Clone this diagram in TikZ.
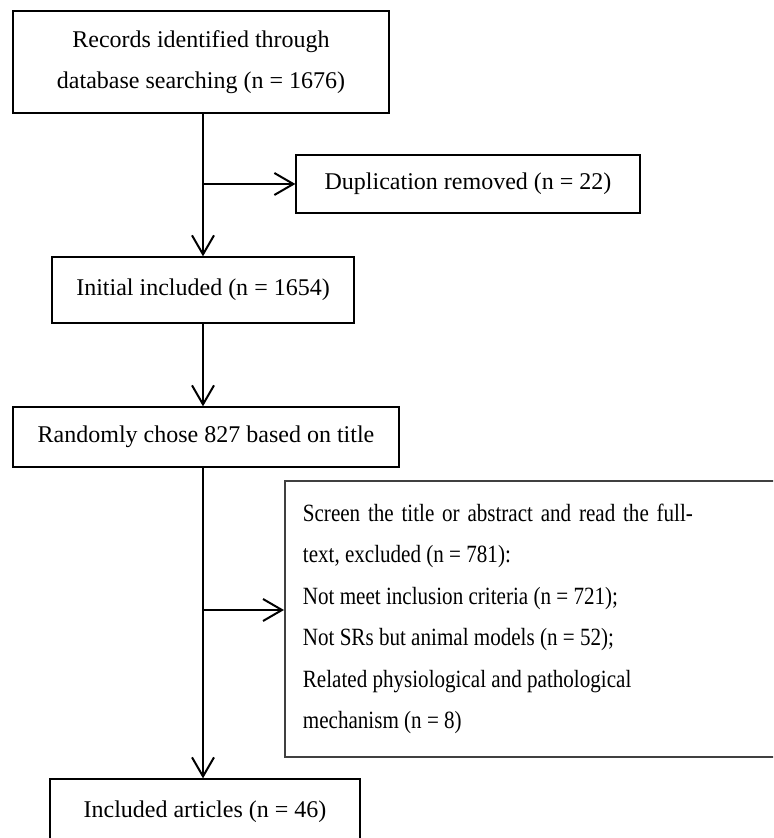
\documentclass[tikz,border=0pt]{standalone}
\usepackage{fontspec}
\setmainfont{Liberation Serif}
\newfontfamily\narrowserif[FakeStretch=0.85]{Liberation Serif}
\usetikzlibrary{arrows.meta,positioning,calc}

\tikzset{
  stagebox/.style={draw=black,line width=0.65pt,inner sep=0pt,align=center,
    font=\fontsize{12}{20.75}\selectfont},
  flowarrow/.style={-{Straight Barb[length=9.5pt,width=11pt]},line width=1pt}
}

\begin{document}
\begin{tikzpicture}[x=0.5pt,y=-0.5pt]
\path[use as bounding box,clip] (0,0) rectangle (773,838);
% boxes
\node[stagebox,minimum width=188pt,minimum height=51pt] (records) at (201,62)
  {Records identified through\\database searching (n = 1676)};
\node[stagebox,minimum width=172pt,minimum height=29pt] (dupl) at (468,184)
  {Duplication removed (n = 22)};
\node[stagebox,minimum width=151pt,minimum height=33pt] (initial) at (203,290)
  {Initial included (n = 1654)};
\node[stagebox,minimum width=193pt,minimum height=30pt] (random) at (206,437)
  {Randomly chose 827 based on title};
\node[stagebox,anchor=north west,align=flush left,text width=245pt,inner xsep=9pt,
  minimum height=138pt,draw=black!75,line width=0.9pt,
  font=\narrowserif\fontsize{12.4}{20.75}\selectfont] (screen) at (284,480)
  {\makebox[195pt][s]{Screen the title or abstract and read the full-}\\
   text, excluded (n = 781):\\
   Not meet inclusion criteria (n = 721);\\
   Not SRs but animal models (n = 52);\\
   Related physiological and pathological\\
   mechanism (n = 8)};
\node[stagebox,minimum width=155pt,minimum height=33pt] (included) at (205,812)
  {Included articles (n = 46)};
% connectors
\coordinate (split2) at (203,610);
\draw[flowarrow] (records.south -| initial.north) -- (initial.north);
\draw[flowarrow] (dupl.west -| initial.north) -- (dupl.west);
\draw[flowarrow] (initial.south) -- (initial.south |- random.north);
\draw[flowarrow] (random.south -| initial.south) -- (included.north -| initial.south);
\draw[flowarrow] (split2) -- (split2 -| screen.west);
\end{tikzpicture}
\end{document}
